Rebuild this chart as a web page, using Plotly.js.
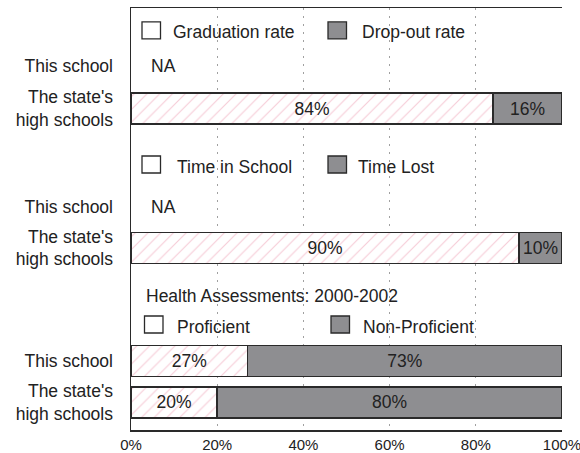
<!DOCTYPE html>
<html>
<head>
<meta charset="utf-8">
<script src="https://cdn.plot.ly/plotly-3.0.1.min.js"></script>
<style>html,body{margin:0;padding:0;background:#fff;}#chart{width:580px;height:453px;}</style>
</head>
<body>
<div id="chart"></div>
<script>
// ---- data ----
const groups = ["Graduation", "Attendance", "Health"];
const legendFirst = ["Graduation rate", "Time in School", "Proficient"];
const legendSecond = ["Drop-out rate", "Time Lost", "Non-Proficient"];
const healthTitle = "Health Assessments: 2000-2002";
const rowLabels = ["This school", "The state's<br>high schools", "This school", "The state's<br>high schools", "This school", "The state's<br>high schools"];
const rowGroup = [0, 0, 1, 1, 2, 2];
const firstPart = [null, 84, null, 90, 27, 20];   // graduation / time in school / proficient
const secondPart = [null, 16, null, 10, 73, 80];  // drop-out / time lost / non-proficient
const naText = "NA";
const xTicks = [0, 20, 40, 60, 80, 100];
const xTickText = ["0%", "20%", "40%", "60%", "80%", "100%"];

// ---- layout constants (pixels) ----
const L = 131, R = 562, T = 8, B = 430, W = 580, H = 453;
const yPos = [58, 100.5, 199, 239.8, 353.2, 394.3];   // row centres (px from plot top)
const legendY = [22.4, 156.5, 316.5];                   // legend square centres
const titleY = 288;
const GRAY = "#8e8e91", EDGE = "#2a2a2a", TXT = "#222";
const FONT = "Liberation Sans, Arial, Helvetica, sans-serif";
const FS = 17.5;
const px2x = p => (p - L) / (R - L) * 100;

const barRows = yPos.map((y, i) => i).filter(i => firstPart[i] !== null);

const common = {
  type: "bar", orientation: "h", width: 31,
  textposition: "inside", insidetextanchor: "middle", constraintext: "none",
  textfont: {family: FONT, size: FS, color: TXT},
  hoverinfo: "skip", showlegend: false
};
const traces = [
  Object.assign({}, common, {
    x: barRows.map(i => firstPart[i]), y: barRows.map(i => yPos[i]),
    text: barRows.map(i => firstPart[i] + "%"), texttemplate: "%{text}",
    marker: {color: "#ffffff", line: {color: EDGE, width: 1.5},
      pattern: {shape: "/", fgcolor: "#f7ccd7", bgcolor: "#ffffff", size: 9, solidity: 0.12, fillmode: "replace"}}
  }),
  Object.assign({}, common, {
    x: barRows.map(i => secondPart[i]), y: barRows.map(i => yPos[i]),
    text: barRows.map(i => secondPart[i] + "%"), texttemplate: "%{text}",
    marker: {color: GRAY, line: {color: EDGE, width: 1.5}}
  })
];

const shapes = [];
const annotations = [];
groups.forEach((g, gi) => {
  const cy = legendY[gi];
  const x1a = gi === 2 ? 144.5 : 142, x2a = gi === 2 ? 331 : 328;
  shapes.push({type: "rect", xref: "x", yref: "y", x0: px2x(x1a), x1: px2x(x1a + 18.5), y0: cy - 8.5, y1: cy + 8.5,
    fillcolor: "#ffffff", line: {color: EDGE, width: 1.3}});
  shapes.push({type: "rect", xref: "x", yref: "y", x0: px2x(x2a), x1: px2x(x2a + 18.5), y0: cy - 8.5, y1: cy + 8.5,
    fillcolor: GRAY, line: {color: EDGE, width: 1.3}});
  annotations.push({xref: "x", yref: "y", x: px2x(gi === 0 ? 171 : 175), y: cy + 2, xanchor: "left", yanchor: "middle",
    text: legendFirst[gi], showarrow: false, font: {family: FONT, size: FS, color: TXT}});
  annotations.push({xref: "x", yref: "y", x: px2x(gi === 0 ? 360 : (gi === 1 ? 356 : 361)), y: cy + 2, xanchor: "left", yanchor: "middle",
    text: legendSecond[gi], showarrow: false, font: {family: FONT, size: FS, color: TXT}});
});
annotations.push({xref: "x", yref: "y", x: px2x(144), y: titleY, xanchor: "left", yanchor: "middle",
  text: healthTitle, showarrow: false, font: {family: FONT, size: FS, color: TXT}});
yPos.forEach((y, i) => {
  if (firstPart[i] === null) {
    annotations.push({xref: "x", yref: "y", x: px2x(149), y: y, xanchor: "left", yanchor: "middle",
      text: naText, showarrow: false, font: {family: FONT, size: FS, color: TXT}});
  }
});

const layout = {
  width: W, height: H,
  margin: {l: L, r: W - R, t: T, b: H - B, pad: 0},
  paper_bgcolor: "#ffffff", plot_bgcolor: "#ffffff",
  barmode: "stack", bargap: 0,
  font: {family: FONT, size: FS, color: TXT},
  xaxis: {range: [0, 100], tickvals: xTicks, ticktext: xTickText, ticks: "",
    tickfont: {family: FONT, size: 15, color: TXT}, ticklabeloverflow: "allow",
    showgrid: true, gridcolor: "#a0a0a0", gridwidth: 1, griddash: "2px,6px",
    zeroline: false, showline: true, linecolor: EDGE, linewidth: 1.5, mirror: true,
    fixedrange: true, automargin: false},
  yaxis: {range: [B - T, 0], tickvals: yPos, ticktext: rowLabels, ticks: "",
    ticklabelstandoff: 13,
    tickfont: {family: FONT, size: FS, color: TXT},
    showgrid: false, zeroline: false, showline: true, linecolor: EDGE, linewidth: 1.5,
    fixedrange: true, automargin: false},
  shapes: shapes, annotations: annotations
};

Plotly.newPlot("chart", traces, layout, {displayModeBar: false, staticPlot: true});
</script>
</body>
</html>
